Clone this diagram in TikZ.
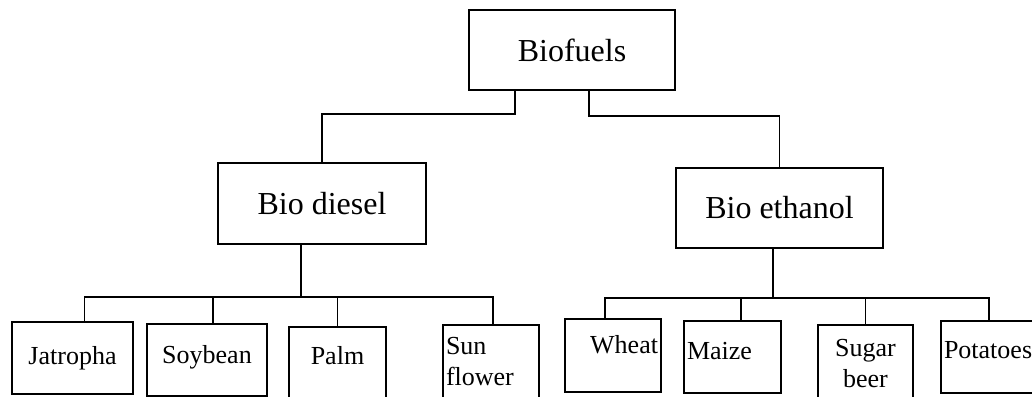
\documentclass[tikz,border=0pt]{standalone}
\usepackage{fontspec}
\setmainfont{Liberation Serif}
\usetikzlibrary{calc}

\begin{document}
\begin{tikzpicture}
[x=1pt,y=-1pt,line width=1.8pt,
box/.style={draw,inner sep=3pt,font=\fontsize{32}{36}\selectfont},
leaf/.style={draw,inner sep=3pt,minimum height=72pt,font=\fontsize{26}{31}\selectfont}]
\useasboundingbox (0,0) rectangle (1032,396);
% top and middle boxes
\node[box,minimum width=206pt,minimum height=80pt](fuel) at (572,50){Biofuels};
\node[box,minimum width=208pt,minimum height=81pt](diesel) at (322,203.5){Bio diesel};
\node[box,minimum width=207pt,minimum height=80pt](ethanol) at (779.5,208){Bio ethanol};
% crops
\node[leaf,text width=115pt,align=center](jat) at (72.5,358){Jatropha};
\node[leaf,text width=114pt,align=center,text depth=12pt](soy) at (207,360){Soybean};
\node[leaf,text width=91pt,align=center,text depth=16pt](palm) at (337.5,363){Palm};
\node[leaf,text width=90pt,align=left,minimum height=74pt](sun) at (491,362){Sun\\flower};
\node[leaf,text width=90pt,align=right,minimum height=73pt,text depth=22pt](wheat) at (613,355.5){Wheat};
\node[leaf,text width=91pt,align=left,text depth=12pt](maize) at (732.5,357){Maize};
\node[leaf,text width=89pt,align=center,minimum height=90pt,text depth=44pt](sugar) at (865.5,370){Sugar\\beer};
\node[leaf,text width=90pt,align=left,text depth=14pt](pot) at (989,357){Potatoes};
% connectors
\draw ([xshift=-57pt]fuel.south) -- ++(0,23) -| (diesel.north);
\draw ([xshift=17pt]fuel.south) -- ++(0,25) -| (ethanol.north);
\draw ([xshift=-21pt]diesel.south) -- ++(0,52) coordinate (dbus);
\foreach \n/\dx in {jat/12,soy/6,palm/0,sun/2}
  \draw ($(\n.north)+(\dx,0)$) |- (dbus);
\draw ([xshift=-6.5pt]ethanol.south) -- ++(0,49) coordinate (ebus);
\foreach \n/\dx in {wheat/-8,maize/8.5,sugar/0,pot/0}
  \draw ($(\n.north)+(\dx,0)$) |- (ebus);
\end{tikzpicture}
\end{document}
